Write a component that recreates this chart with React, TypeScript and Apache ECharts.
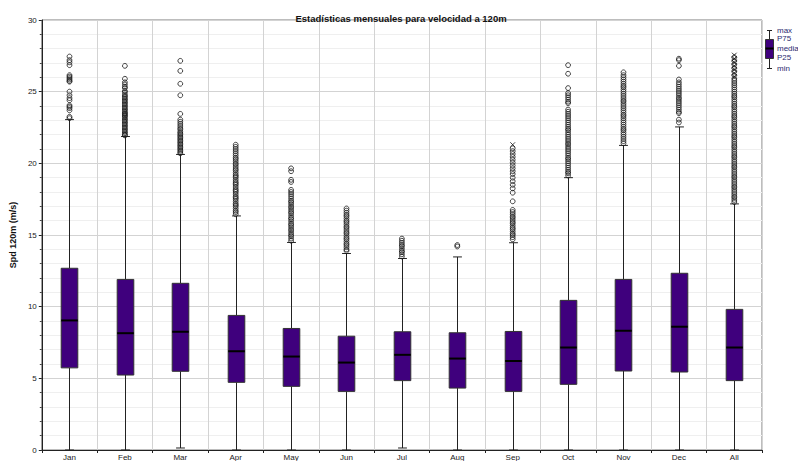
import React, { useEffect, useRef } from "react";
import * as echarts from "echarts";

const categories = ["Jan", "Feb", "Mar", "Apr", "May", "Jun", "Jul", "Aug", "Sep", "Oct", "Nov", "Dec", "All"];
const minVals = [0, 0, 0.14, 0, 0, 0, 0.14, 0, 0, 0, 0, 0, 0];
const p25Vals = [5.73, 5.23, 5.49, 4.72, 4.44, 4.09, 4.84, 4.32, 4.09, 4.58, 5.51, 5.44, 4.84];
const medianVals = [9.04, 8.15, 8.25, 6.89, 6.52, 6.1, 6.64, 6.38, 6.21, 7.15, 8.32, 8.6, 7.15];
const p75Vals = [12.68, 11.9, 11.63, 9.39, 8.48, 7.94, 8.25, 8.18, 8.27, 10.44, 11.9, 12.33, 9.81];
const maxVals = [23.05, 21.87, 20.62, 16.33, 14.48, 13.71, 13.36, 13.47, 14.46, 19.0, 21.25, 22.54, 17.17];

const outJan = [27.45, 27.2, 27.05, 26.85, 26.15, 26.05, 25.95, 25.85, 25.75, 25.7, 25.0, 24.75, 24.55, 24.4, 24.05, 23.95, 23.85, 23.7, 23.25, 23.15];
const outFeb = [26.8, 25.9, 25.65, 25.5, 25.35, 25.25, 25.05, 24.95, 24.8, 24.7, 24.6, 24.5, 24.4, 24.3, 24.2, 24.1, 24.0, 23.9, 23.8, 23.7, 23.6, 23.5, 23.45, 23.35, 23.3, 23.2, 23.1, 23.0, 22.9, 22.8, 22.7, 22.6, 22.5, 22.4, 22.3, 22.2, 22.1, 22.0, 21.95];
const outMar = [27.15, 26.45, 25.55, 24.75, 23.45, 23.05, 22.9, 22.75, 22.6, 22.45, 22.35, 22.2, 22.1, 22.0, 21.9, 21.8, 21.7, 21.6, 21.5, 21.4, 21.3, 21.2, 21.1, 21.0, 20.9, 20.8, 20.7];
const outApr = [21.3, 21.15, 21.0, 20.85, 20.7, 20.55, 20.4, 20.3, 20.15, 20.0, 19.9, 19.75, 19.6, 19.5, 19.35, 19.2, 19.1, 19.0, 18.85, 18.7, 18.6, 18.5, 18.35, 18.2, 18.1, 18.0, 17.85, 17.7, 17.6, 17.5, 17.35, 17.2, 17.1, 17.0, 16.85, 16.7, 16.6, 16.45];
const outMay = [19.65, 19.45, 18.85, 18.7, 18.15, 18.0, 17.85, 17.7, 17.55, 17.4, 17.3, 17.15, 17.0, 16.9, 16.75, 16.6, 16.5, 16.35, 16.2, 16.1, 15.95, 15.8, 15.7, 15.55, 15.4, 15.3, 15.15, 15.0, 14.9, 14.75, 14.6];
const outJun = [16.85, 16.7, 16.55, 16.4, 16.3, 16.15, 16.0, 15.9, 15.75, 15.6, 15.5, 15.35, 15.2, 15.1, 14.95, 14.8, 14.7, 14.55, 14.4, 14.3, 14.15, 14.0, 13.9];
const outJul = [14.75, 14.6, 14.45, 14.3, 14.2, 14.05, 13.9, 13.8, 13.65, 13.5];
const outAug = [14.3, 14.2];
const outSep = [21.05, 20.85, 20.65, 20.45, 20.25, 20.05, 19.85, 19.65, 19.45, 19.25, 19.0, 18.75, 18.5, 18.25, 17.95, 17.35, 16.75, 16.6, 16.45, 16.3, 16.2, 16.05, 15.9, 15.8, 15.65, 15.5, 15.4, 15.25, 15.1, 15.0, 14.85, 14.7];
const outOct = [26.85, 26.25, 25.25, 24.9, 24.75, 24.6, 24.45, 24.3, 24.2, 23.75, 23.6, 23.45, 23.3, 23.15, 23.0, 22.85, 22.7, 22.55, 22.4, 22.3, 22.15, 22.0, 21.85, 21.7, 21.55, 21.4, 21.3, 21.15, 21.0, 20.85, 20.7, 20.55, 20.4, 20.3, 20.15, 20.0, 19.85, 19.7, 19.55, 19.4, 19.3, 19.15];
const outNov = [26.35, 26.15, 26.0, 25.85, 25.7, 25.55, 25.4, 25.3, 25.15, 25.0, 24.85, 24.7, 24.55, 24.4, 24.3, 24.15, 24.0, 23.85, 23.7, 23.55, 23.4, 23.3, 23.15, 23.0, 22.85, 22.7, 22.55, 22.4, 22.3, 22.15, 22.0, 21.85, 21.7, 21.55, 21.4];
const outDec = [27.3, 27.2, 26.8, 25.85, 25.65, 25.5, 25.35, 25.2, 25.05, 24.9, 24.75, 24.6, 24.5, 24.35, 24.2, 24.05, 23.9, 23.75, 23.6, 23.5, 23.05, 22.85];
const outAll = [27.4, 27.15, 26.9, 26.65, 26.4, 26.15, 25.9, 25.75, 25.6, 25.45, 25.3, 25.15, 25.0, 24.85, 24.7, 24.6, 24.45, 24.3, 24.15, 24.0, 23.9, 23.75, 23.6, 23.45, 23.3, 23.2, 23.05, 22.9, 22.75, 22.6, 22.5, 22.35, 22.2, 22.05, 21.9, 21.8, 21.65, 21.5, 21.35, 21.2, 21.1, 20.95, 20.8, 20.65, 20.5, 20.4, 20.25, 20.1, 19.95, 19.8, 19.7, 19.55, 19.4, 19.25, 19.1, 19.0, 18.85, 18.7, 18.55, 18.4, 18.3, 18.15, 18.0, 17.85, 17.7, 17.6, 17.45, 17.3];
const outliers = [outJan, outFeb, outMar, outApr, outMay, outJun, outJul, outAug, outSep, outOct, outNov, outDec, outAll];

// points drawn as crosses (overlapping extremes)
const crossCats = ["Sep", "All", "All", "All", "All", "All", "All", "All"];
const crossVals = [21.3, 27.55, 27.3, 27.05, 26.8, 26.55, 26.3, 26.05];

const yTicks = [0, 5, 10, 15, 20, 25, 30];
const legendLabels = ["max", "P75", "median", "P25", "min"];

const FONT = "Liberation Sans";
const BOX_FILL = "#3f007d";

export default function App() {
  const ref = useRef<HTMLDivElement>(null);
  useEffect(() => {
    if (!ref.current) return;
    const chart = echarts.init(ref.current, null, { renderer: "svg" });
    const boxData = categories.map((_, i) => [i, minVals[i], p25Vals[i], medianVals[i], p75Vals[i], maxVals[i]]);
    const outData: number[][] = [];
    outliers.forEach((arr, i) => arr.forEach((v) => outData.push([i, v])));
    const crossData = crossCats.map((c, k) => [categories.indexOf(c), crossVals[k]]);
    const legendY = [30, 38.5, 48.5, 57.5, 68];

    const option: any = {
      animation: false,
      backgroundColor: "#ffffff",
      textStyle: { fontFamily: FONT },
      title: {
        text: "Estadísticas mensuales para velocidad a 120m",
        left: 396,
        textAlign: "center",
        top: 8,
        textStyle: { fontFamily: FONT, fontSize: 9.5, fontWeight: "bold", color: "#111" },
      },
      grid: {
        left: 34,
        right: 36,
        top: 20,
        bottom: 11,
        show: true,
        borderColor: "#7a7a7a",
        borderWidth: 1,
      },
      xAxis: {
        type: "category",
        data: categories,
        boundaryGap: true,
        axisLine: { lineStyle: { color: "#222", width: 1 } },
        axisTick: { show: true, length: 3, lineStyle: { color: "#222" } },
        splitLine: { show: true, interval: 0, lineStyle: { color: "#d3d3d3", width: 1 } },
        axisLabel: { interval: 0, fontSize: 8, color: "#1a1a1a", margin: 3, fontFamily: FONT },
      },
      yAxis: {
        type: "value",
        min: yTicks[0],
        max: yTicks[yTicks.length - 1],
        interval: 5,
        name: "Spd 120m (m/s)",
        nameLocation: "middle",
        nameRotate: 90,
        nameGap: 16,
        nameTextStyle: { fontFamily: FONT, fontSize: 9, fontWeight: "bold", color: "#111" },
        axisLine: { show: true, lineStyle: { color: "#222", width: 1 } },
        axisTick: { show: true, length: 3, lineStyle: { color: "#222" } },
        minorTick: { show: true, splitNumber: 5, length: 2, lineStyle: { color: "#444" } },
        splitLine: { show: true, lineStyle: { color: "#d3d3d3", width: 1 } },
        minorSplitLine: { show: true, lineStyle: { color: "#efefef", width: 1 } },
        axisLabel: { fontSize: 8, color: "#1a1a1a", margin: 5, fontFamily: FONT },
      },
      series: [
        {
          type: "custom",
          data: boxData,
          encode: { x: 0, y: [1, 2, 3, 4, 5] },
          z: 3,
          renderItem: (params: any, api: any) => {
            const idx = api.value(0);
            const pMin = api.coord([idx, api.value(1)]);
            const p25 = api.coord([idx, api.value(2)]);
            const pMed = api.coord([idx, api.value(3)]);
            const p75 = api.coord([idx, api.value(4)]);
            const pMax = api.coord([idx, api.value(5)]);
            const band = api.size([1, 0])[0];
            const bw = band * 0.3;
            const cw = band * 0.16;
            const cx = Math.round(pMin[0]) + 0.5;
            const ws = { stroke: "#222", lineWidth: 1 };
            return {
              type: "group",
              children: [
                { type: "line", shape: { x1: cx, y1: pMin[1], x2: cx, y2: p25[1] }, style: ws },
                { type: "line", shape: { x1: cx, y1: p75[1], x2: cx, y2: pMax[1] }, style: ws },
                { type: "line", shape: { x1: cx - cw / 2, y1: pMin[1], x2: cx + cw / 2, y2: pMin[1] }, style: ws },
                { type: "line", shape: { x1: cx - cw / 2, y1: pMax[1], x2: cx + cw / 2, y2: pMax[1] }, style: ws },
                {
                  type: "rect",
                  shape: { x: cx - bw / 2, y: p75[1], width: bw, height: p25[1] - p75[1] },
                  style: { fill: BOX_FILL, stroke: "#333", lineWidth: 1 },
                },
                {
                  type: "line",
                  shape: { x1: cx - bw / 2, y1: pMed[1], x2: cx + bw / 2, y2: pMed[1] },
                  style: { stroke: "#000", lineWidth: 2 },
                },
              ],
            };
          },
        },
        {
          type: "scatter",
          data: outData,
          symbol: "circle",
          symbolSize: 4.8,
          z: 4,
          itemStyle: { color: "rgba(255,255,255,0)", borderColor: "#161616", borderWidth: 1 },
        },
        {
          type: "scatter",
          data: crossData,
          symbol: "path://M0,0L10,10M10,0L0,10",
          symbolSize: 4.8,
          z: 4,
          itemStyle: { color: "none", borderColor: "#161616", borderWidth: 1 },
        },
      ],
      graphic: [
        { type: "line", shape: { x1: 769.5, y1: 30, x2: 769.5, y2: 68 }, style: { stroke: "#222", lineWidth: 1 } },
        { type: "line", shape: { x1: 767, y1: 30.5, x2: 772, y2: 30.5 }, style: { stroke: "#222", lineWidth: 1 } },
        { type: "line", shape: { x1: 767, y1: 68.5, x2: 772, y2: 68.5 }, style: { stroke: "#222", lineWidth: 1 } },
        { type: "rect", shape: { x: 765.5, y: 39.5, width: 8, height: 19 }, style: { fill: BOX_FILL, stroke: "#333", lineWidth: 1 } },
        { type: "line", shape: { x1: 765.5, y1: 48.5, x2: 773.5, y2: 48.5 }, style: { stroke: "#000", lineWidth: 2 } },
        ...legendLabels.map((t, k) => ({
          type: "text",
          x: 777,
          y: legendY[k],
          style: { text: t, fontSize: 8, fontFamily: FONT, fill: "#2a2a70", verticalAlign: "middle" },
        })),
      ],
    };
    chart.setOption(option);
    return () => chart.dispose();
  }, []);
  return (
    <div
      ref={ref}
      style={{ position: "fixed", left: 0, top: 0, width: 798, height: 461, background: "#fff" }}
    />
  );
}
